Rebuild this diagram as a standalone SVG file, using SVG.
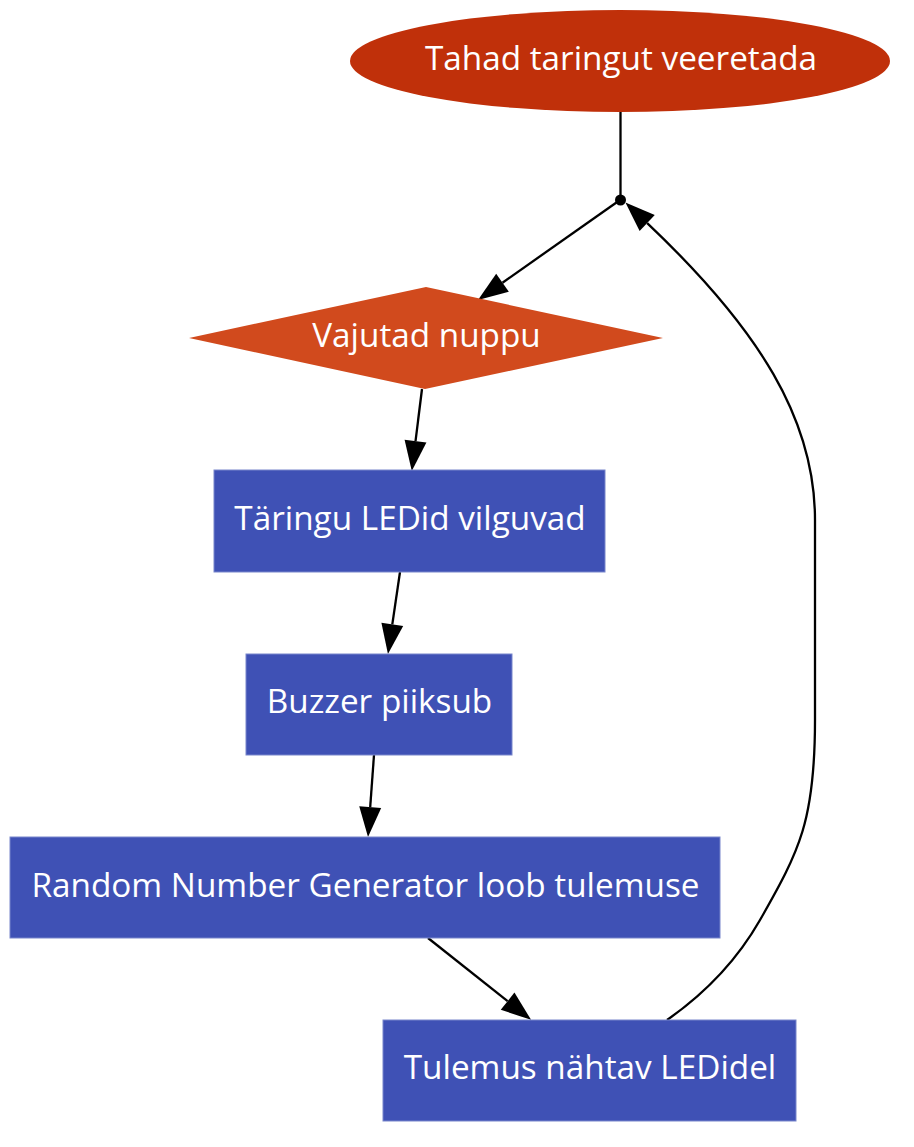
<svg xmlns="http://www.w3.org/2000/svg" width="914" height="1147" viewBox="0 0 914 1147">
<style>
.lbl{font-family:"Open Sans","Noto Sans",sans-serif;font-size:33.3px;fill:#ffffff;text-anchor:middle}
.box{fill:#3f51b5;stroke:#7986cb;stroke-width:1}
.edge{fill:none;stroke:#000000;stroke-width:2.3}
</style>
<defs>
<marker id="arr" markerUnits="userSpaceOnUse" markerWidth="32" markerHeight="24" refX="0" refY="11" orient="auto" overflow="visible">
<path d="M0,0 L30,11 L0,22 z" fill="#000000"/>
</marker>
</defs>
<rect width="914" height="1147" fill="#ffffff"/>
<g id="connectors">
<path class="edge" d="M620.5,112 L620.5,200"/>
<path class="edge" d="M620,200 L502.5,282.7" marker-end="url(#arr)"/>
<path class="edge" d="M422,389 L415.5,441.2" marker-end="url(#arr)"/>
<path class="edge" d="M400,572 L392.3,624.3" marker-end="url(#arr)"/>
<path class="edge" d="M374,755 L370.2,807.1" marker-end="url(#arr)"/>
<path class="edge" d="M428,938 L507.6,1001.2" marker-end="url(#arr)"/>
<path class="edge" d="M667,1020 C710,990 740,955 760,920 C800,850 815,820 815,720 L815,520 C815,420 760,330 647.2,223.1" marker-end="url(#arr)"/>
<circle cx="620.5" cy="200" r="5.5" fill="#000000"/>
</g>
<g id="start">
<ellipse cx="620" cy="61" rx="270" ry="51" fill="#c0300a"/>
<text class="lbl" x="621" y="69.5">Tahad taringut veeretada</text>
</g>
<g id="press">
<polygon points="426,287 663,338 425,389 189,338" fill="#d14a1d"/>
<text class="lbl" x="426.5" y="346.5">Vajutad nuppu</text>
</g>
<g id="blink">
<rect class="box" x="214" y="470" width="391" height="102"/>
<text class="lbl" x="410" y="529.5">Täringu LEDid vilguvad</text>
</g>
<g id="buzzer">
<rect class="box" x="246" y="654" width="266" height="101"/>
<text class="lbl" x="379.5" y="712.5">Buzzer piiksub</text>
</g>
<g id="rng">
<rect class="box" x="10" y="837" width="710" height="101"/>
<text class="lbl" x="365.5" y="896.5">Random Number Generator loob tulemuse</text>
</g>
<g id="result">
<rect class="box" x="383" y="1020" width="413" height="101"/>
<text class="lbl" x="590" y="1079">Tulemus nähtav LEDidel</text>
</g>
</svg>
